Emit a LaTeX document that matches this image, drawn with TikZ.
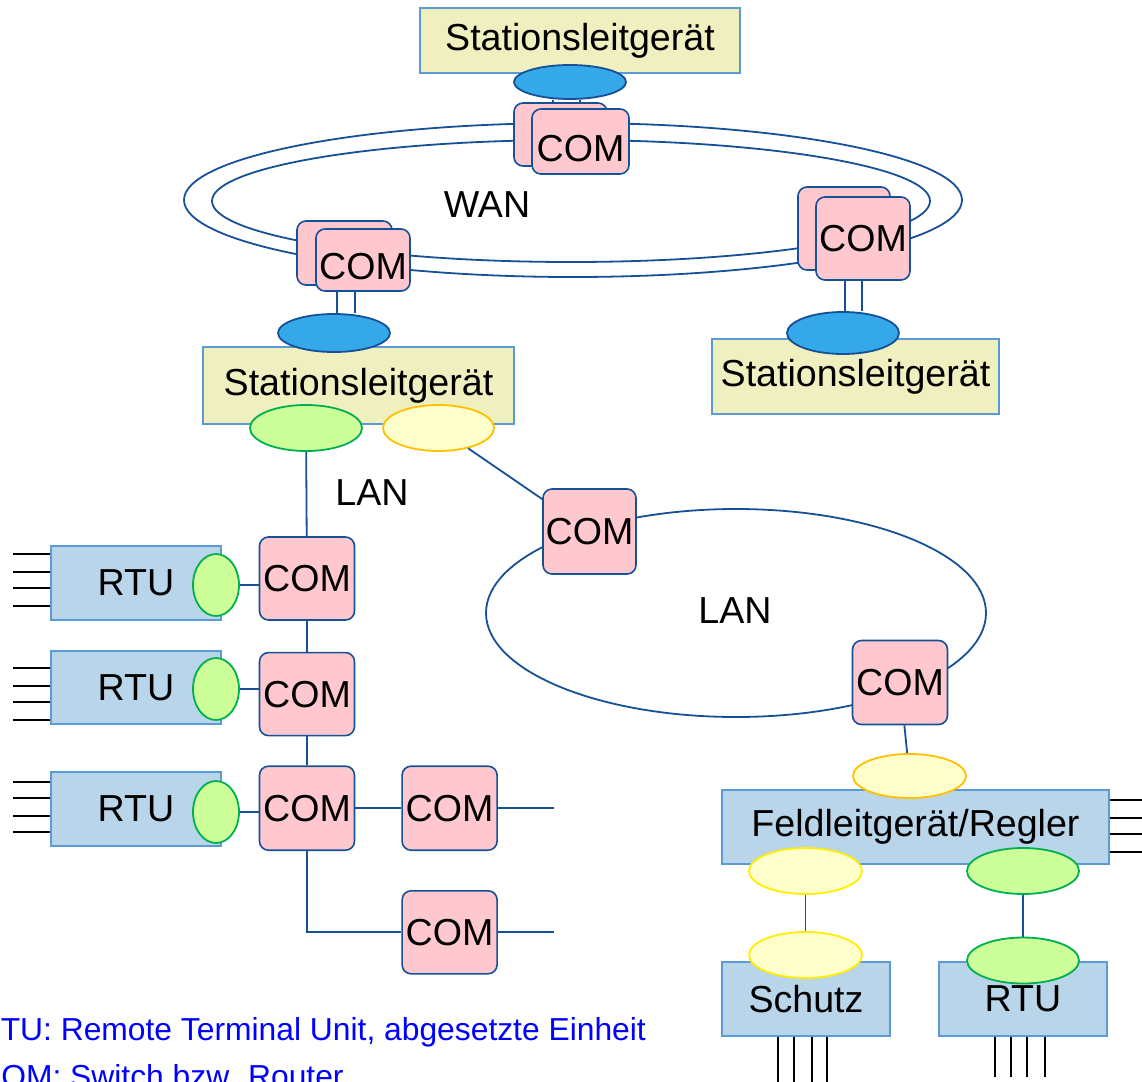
\documentclass[tikz,border=0pt]{standalone}
\usepackage{fontspec}
\setmainfont{Liberation Sans}
\usepackage{tikz}
\usetikzlibrary{positioning,shapes.geometric}

\definecolor{netline}{RGB}{22,80,150}
\definecolor{boxline}{RGB}{91,155,213}
\definecolor{stationfill}{RGB}{239,239,192}
\definecolor{devfill}{RGB}{185,213,233}
\definecolor{comfill}{RGB}{255,199,206}
\definecolor{wanfill}{RGB}{53,168,234}
\definecolor{greenfill}{RGB}{204,255,153}
\definecolor{greenline}{RGB}{0,176,80}
\definecolor{yellowfill}{RGB}{255,255,204}
\definecolor{orangeline}{RGB}{255,192,0}
\definecolor{yellowline}{RGB}{255,238,0}
\definecolor{legendblue}{RGB}{0,0,255}

\tikzset{
    station/.style={draw=boxline, fill=stationfill, line width=1.2pt},
    device/.style={draw=boxline, fill=devfill, line width=1.2pt},
    com/.style={draw=netline, fill=comfill, line width=0.8pt, rounded corners=4.5pt,
                inner sep=0pt, minimum width=47.5pt, minimum height=42pt},
    port/.style={ellipse, line width=0.9pt, inner sep=0pt,
                minimum width=56pt, minimum height=23pt},
    wanport/.style={port, draw=netline, fill=wanfill},
    lanport/.style={port, draw=greenline, fill=greenfill},
    iecport/.style={port, draw=orangeline, fill=yellowfill},
    prtport/.style={port, draw=yellowline, fill=yellowfill},
    link/.style={draw=netline, line width=0.9pt},
    wire/.style={draw=black, line width=1pt}
}

\begin{document}
\begin{tikzpicture}[x=0.5pt, y=-0.5pt, font=\fontsize{18.8}{22}\selectfont]
                \useasboundingbox (0,0) rectangle (1142,1082);
                \clip (0,0) rectangle (1142,1082);

                \draw[link] (573,200) ellipse [x radius=194.5pt, y radius=38.5pt];
                \draw[link] (571,201) ellipse [x radius=179.5pt, y radius=30.5pt];
                \draw[link] (736,613) ellipse [x radius=125pt, y radius=52pt];

                \node [station, minimum width=160pt, minimum height=32.5pt]
                                        (st1) at (580,40.5) {Stationsleitgerät};
                \node [com, minimum width=46.5pt, minimum height=31.5pt]
                                        (c1b) at (560.5,134.5) {};
                \node [com, minimum width=48.5pt, minimum height=32.5pt, text height=20pt]
                                        (c1) at (580.5,141.5) {COM};
                \node [wanport, minimum height=17pt] (wp1) at (570,82) {};
                \draw[link] ([xshift=-8.5pt]wp1.south) -- ([xshift=-8.5pt]wp1.south |- c1b.north);
                \draw[link] ([xshift=5pt]wp1.south) -- ([xshift=5pt]wp1.south |- c1b.north);

                \node [com, minimum width=47.5pt, minimum height=32pt]
                                        (c2b) at (344.5,253) {};
                \node [com, minimum width=47pt, minimum height=31pt, text height=20pt]
                                        (c2) at (363,260) {COM};
                \node [station, minimum width=155.5pt, minimum height=38.5pt]
                                        (st2) at (358.5,385.5) {Stationsleitgerät};
                \node [wanport, minimum height=19pt] (wp2) at (334,333) {};
                \draw[link] ([xshift=1.5pt]wp2.north) -- ([xshift=1.5pt]wp2.north |- c2.south);
                \draw[link] ([xshift=10.5pt]wp2.north) -- ([xshift=10.5pt]wp2.north |- c2.south);
                \node [lanport] (gp1) at (306,428) {};
                \node [iecport, minimum width=55.5pt] (yp1) at (438.5,428) {};

                \node [com, minimum width=46pt, minimum height=41.5pt]
                                        (c3b) at (844,228.5) {};
                \node [com, minimum width=47pt, minimum height=41.5pt]
                                        (c3) at (863,238.5) {COM};
                \node [station, minimum width=143.5pt, minimum height=37.5pt]
                                        (st3) at (855.5,376.5) {Stationsleitgerät};
                \node [wanport, minimum height=21pt] (wp3) at (843,333) {};
                \draw[link] ([xshift=1pt]wp3.north) -- ([xshift=1pt]wp3.north |- c3.south);
                \draw[link] ([xshift=9.5pt]wp3.north) -- ([xshift=9.5pt]wp3.north |- c3.south);

                \node (wan) at (487,205) {WAN};
                \node (lan1) at (372,493) {LAN};
                \node (lan2) at (735,611) {LAN};

                \node [com, minimum width=46.5pt, minimum height=42.5pt]
                                        (ca) at (589.5,531.5) {COM};
                \node [com] (cb) at (900,682.5) {COM};
                \draw[link] (yp1) -- (ca);

                \node [device, minimum width=193.5pt, minimum height=37pt]
                                        (fl) at (915.5,827) {Feldleitgerät/Regler};
                \node [iecport, minimum width=56.5pt, minimum height=22pt] (yp2) at (909.5,776) {};
                \draw[link] (cb) -- (yp2);
                \node [prtport, minimum width=56.5pt] (ys1) at (805.5,871) {};
                \node [lanport] (gp2) at (1023,871) {};
                \node [device, minimum width=84pt, minimum height=37pt]
                                        (sch) at (806,999) {Schutz};
                \node [device, minimum width=84pt, minimum height=37pt]
                                        (rtu4) at (1023,999) {RTU};
                \node [prtport, minimum width=56.5pt] (ys2) at (805.5,955) {};
                \node [lanport] (gp3) at (1023,960.5) {};
                \draw[link] (ys1) -- (ys2);
                \draw[link] (gp2) -- (gp3);
                \foreach \dy in {-27,-9,7,25}
                    \draw[wire] (fl.east) ++(0,\dy) -- ++(34,0);
                \foreach \dx in {-28,-12,6,21}
                    \draw[wire] (sch.south) ++(\dx,0) -- ++(0,46);
                \foreach \dx in {-28,-12,4,22}
                    \draw[wire] (rtu4.south) ++(\dx,0) -- ++(0,40);

                \node [device, minimum width=85pt, minimum height=37pt] (rtu1) at (136,583) {RTU};
                \node [device, minimum width=85pt, minimum height=36.5pt] (rtu2) at (136,687.5) {RTU};
                \node [device, minimum width=85pt, minimum height=37pt] (rtu3) at (136,809) {RTU};
                \node [lanport, minimum width=23pt, minimum height=31pt] (e1) at (216,585) {};
                \node [lanport, minimum width=23pt, minimum height=31pt] (e2) at (216,689) {};
                \node [lanport, minimum width=23pt, minimum height=31pt] (e3) at (216,812) {};
                \foreach \dy in {-29,-11,5,23}
                    \draw[wire] (rtu1.west) ++(0,\dy) -- ++(-37,0);
                \foreach \dy in {-19.5,-1.5,14.5,32.5}
                    \draw[wire] (rtu2.west) ++(0,\dy) -- ++(-37,0);
                \foreach \dy in {-27,-11,7,23}
                    \draw[wire] (rtu3.west) ++(0,\dy) -- ++(-37,0);

                \node [com, minimum height=41.5pt] (cl1) at (307,578.5) {COM};
                \node [com, minimum height=41.5pt, below=15.5pt of cl1] (cl2) {COM};
                \node [com, below=14.5pt of cl2] (cl3) {COM};
                \node [com, right=23pt of cl3] (cl4) {COM};
                \node [com, minimum height=41.5pt, below=19.5pt of cl4] (cl5) {COM};
                \draw[link] (gp1) -- (cl1);
                \draw[link] (cl1) -- (cl2);
                \draw[link] (cl2) -- (cl3);
                \draw[link] (cl3) -- (cl4);
                \draw[link] (cl3.south) |- (cl5.west);
                \draw[link] (cl4.east) -- ++(56,0);
                \draw[link] (cl5.east) -- ++(56,0);
                \draw[link] (e1.east) -- (e1.east -| cl1.west);
                \draw[link] (e2.east) -- (e2.east -| cl2.west);
                \draw[link] (e3.east) -- (e3.east -| cl3.west);

                \node [text=legendblue, font=\fontsize{15.9}{19}\selectfont, anchor=base west, inner sep=0pt]
                                        (leg1) at (-22,1040) {RTU: Remote Terminal Unit, abgesetzte Einheit};
                \node [text=legendblue, font=\fontsize{15.9}{19}\selectfont, anchor=base west, inner sep=0pt]
                                        (leg2) at (-22,1087) {COM: Switch bzw. Router};
\end{tikzpicture}
\end{document}
